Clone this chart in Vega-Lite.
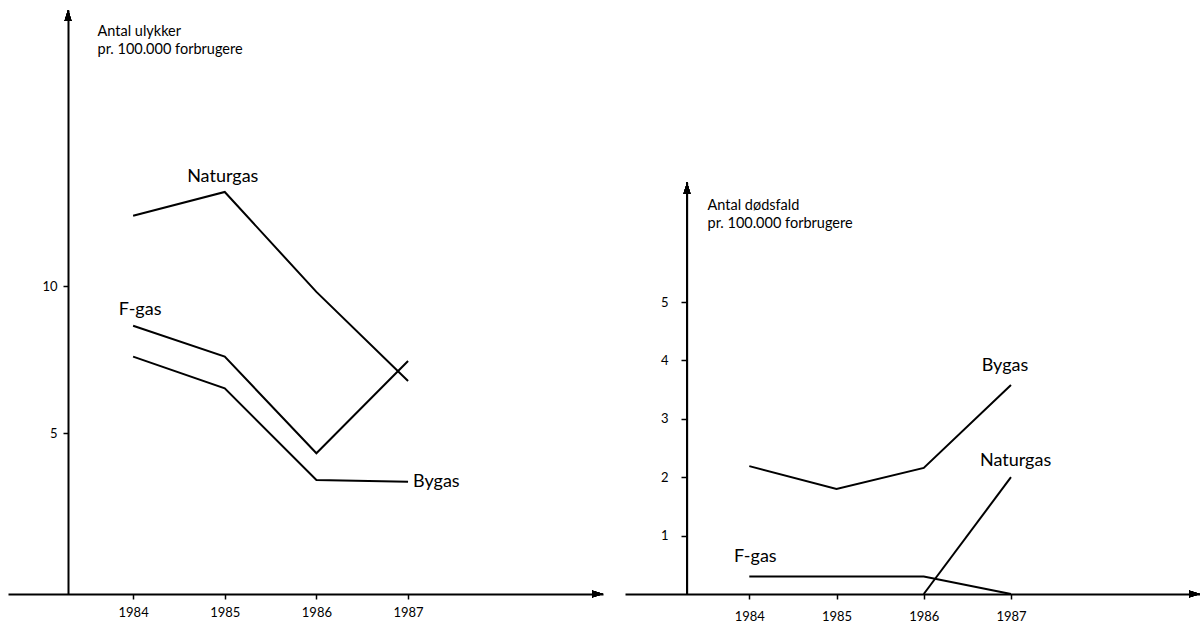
{
  "$schema": "https://vega.github.io/schema/vega-lite/v6.json",
  "background": "white",
  "padding": {"left": 8, "top": 10, "right": 0, "bottom": 0},
  "bounds": "flush",
  "spacing": 22,
  "config": {
    "view": {"stroke": null},
    "font": "Lato",
    "axis": {
      "grid": false,
      "domainColor": "black",
      "domainWidth": 2,
      "tickColor": "black",
      "tickWidth": 1.5,
      "tickSize": 5,
      "labelColor": "black",
      "labelFont": "Lato",
      "labelFontSize": 13,
      "titleColor": "black",
      "titleFont": "Lato",
      "titleFontWeight": "normal",
      "titleFontSize": 14.5
    },
    "line": {"color": "black", "strokeWidth": 2},
    "text": {"color": "black", "font": "Lato", "fontSize": 18}
  },
  "datasets": {
    "ulykker": [
      {"series": "Naturgas", "year": 1984, "value": 12.39},
      {"series": "Naturgas", "year": 1985, "value": 13.2},
      {"series": "Naturgas", "year": 1986, "value": 9.8},
      {"series": "Naturgas", "year": 1987, "value": 6.77},
      {"series": "F-gas", "year": 1984, "value": 8.65},
      {"series": "F-gas", "year": 1985, "value": 7.6},
      {"series": "F-gas", "year": 1986, "value": 4.31},
      {"series": "F-gas", "year": 1987, "value": 7.45},
      {"series": "Bygas", "year": 1984, "value": 7.6},
      {"series": "Bygas", "year": 1985, "value": 6.52},
      {"series": "Bygas", "year": 1986, "value": 3.4},
      {"series": "Bygas", "year": 1987, "value": 3.34}
    ],
    "doedsfald": [
      {"series": "Bygas", "year": 1984, "value": 2.19},
      {"series": "Bygas", "year": 1985, "value": 1.8},
      {"series": "Bygas", "year": 1986, "value": 2.16},
      {"series": "Bygas", "year": 1987, "value": 3.58},
      {"series": "Naturgas", "year": 1986, "value": 0},
      {"series": "Naturgas", "year": 1987, "value": 2.0},
      {"series": "F-gas", "year": 1984, "value": 0.3},
      {"series": "F-gas", "year": 1985, "value": 0.3},
      {"series": "F-gas", "year": 1986, "value": 0.3},
      {"series": "F-gas", "year": 1987, "value": 0}
    ]
  },
  "hconcat": [
    {
      "width": 595,
      "height": 584,
      "data": {"name": "ulykker"},
      "encoding": {
        "x": {
          "field": "year", "type": "quantitative",
          "scale": {"domain": [1982.635, 1989.127], "nice": false, "zero": false},
          "axis": {"values": [1984, 1985, 1986, 1987], "format": "d", "title": null, "labelPadding": 7}
        },
        "y": {
          "field": "value", "type": "quantitative",
          "scale": {"domain": [-0.476, 19.39], "nice": false, "zero": false},
          "axis": {
            "values": [5, 10], "offset": -60, "labelPadding": 6,
            "title": ["Antal ulykker", "pr. 100.000 forbrugere"],
            "titleAngle": 0, "titleAlign": "left", "titleBaseline": "top",
            "titleX": 29, "titleY": 14, "titleLineHeight": 18
          }
        }
      },
      "layer": [
        {"mark": {"type": "line"}, "encoding": {"detail": {"field": "series"}}},
        {
          "transform": [{"filter": "datum.series === 'Naturgas' && datum.year === 1985"}],
          "mark": {"type": "text", "align": "center", "baseline": "middle", "dx": -2, "dy": -15},
          "encoding": {"text": {"field": "series"}}
        },
        {
          "transform": [{"filter": "datum.series === 'F-gas' && datum.year === 1984"}],
          "mark": {"type": "text", "align": "center", "baseline": "middle", "dx": 7, "dy": -16},
          "encoding": {"text": {"field": "series"}}
        },
        {
          "transform": [{"filter": "datum.series === 'Bygas' && datum.year === 1987"}],
          "mark": {"type": "text", "align": "left", "baseline": "middle", "dx": 5, "dy": 0},
          "encoding": {"text": {"field": "series"}}
        },
        {
          "mark": {"type": "point", "shape": "M0,0L-2.2,-0.7L-2.2,0.7Z", "filled": true, "color": "black", "size": 100, "opacity": 1},
          "encoding": {"x": {"datum": 1989.127}, "y": {"datum": -0.476}}
        },
        {
          "mark": {"type": "point", "shape": "M0,0L-0.7,2.2L0.7,2.2Z", "filled": true, "color": "black", "size": 100, "opacity": 1},
          "encoding": {"x": {"datum": 1983.29}, "y": {"datum": 19.39}}
        }
      ]
    },
    {
      "width": 575,
      "height": 584,
      "data": {"name": "doedsfald"},
      "encoding": {
        "x": {
          "field": "year", "type": "quantitative",
          "scale": {"domain": [1982.575, 1989.167], "nice": false, "zero": false},
          "axis": {"values": [1984, 1985, 1986, 1987], "format": "d", "title": null, "labelPadding": 11}
        },
        "y": {
          "field": "value", "type": "quantitative",
          "scale": {"domain": [0, 10], "nice": false, "zero": false},
          "axis": {
            "values": [1, 2, 3, 4, 5], "offset": -62, "domain": false, "tickSize": 6, "labelPadding": 13,
            "title": ["Antal dødsfald", "pr. 100.000 forbrugere"],
            "titleAngle": 0, "titleAlign": "left", "titleBaseline": "top",
            "titleX": 20, "titleY": 188, "titleLineHeight": 18
          }
        }
      },
      "layer": [
        {"mark": {"type": "line"}, "encoding": {"detail": {"field": "series"}}},
        {
          "transform": [{"filter": "datum.series === 'Bygas' && datum.year === 1987"}],
          "mark": {"type": "text", "align": "center", "baseline": "middle", "dx": -6, "dy": -19},
          "encoding": {"text": {"field": "series"}}
        },
        {
          "transform": [{"filter": "datum.series === 'Naturgas' && datum.year === 1987"}],
          "mark": {"type": "text", "align": "left", "baseline": "middle", "dx": -31, "dy": -16},
          "encoding": {"text": {"field": "series"}}
        },
        {
          "transform": [{"filter": "datum.series === 'F-gas' && datum.year === 1984"}],
          "mark": {"type": "text", "align": "center", "baseline": "middle", "dx": 6, "dy": -19},
          "encoding": {"text": {"field": "series"}}
        },
        {
          "mark": {"type": "rule", "color": "black", "strokeWidth": 2},
          "encoding": {"x": {"datum": 1983.286}, "y": {"datum": 0}, "y2": {"datum": 7.04}}
        },
        {
          "mark": {"type": "point", "shape": "M0,0L-2.2,-0.7L-2.2,0.7Z", "filled": true, "color": "black", "size": 100, "opacity": 1},
          "encoding": {"x": {"datum": 1989.167}, "y": {"datum": 0}}
        },
        {
          "mark": {"type": "point", "shape": "M0,0L-0.7,2.2L0.7,2.2Z", "filled": true, "color": "black", "size": 100, "opacity": 1},
          "encoding": {"x": {"datum": 1983.286}, "y": {"datum": 7.04}}
        }
      ]
    }
  ]
}
